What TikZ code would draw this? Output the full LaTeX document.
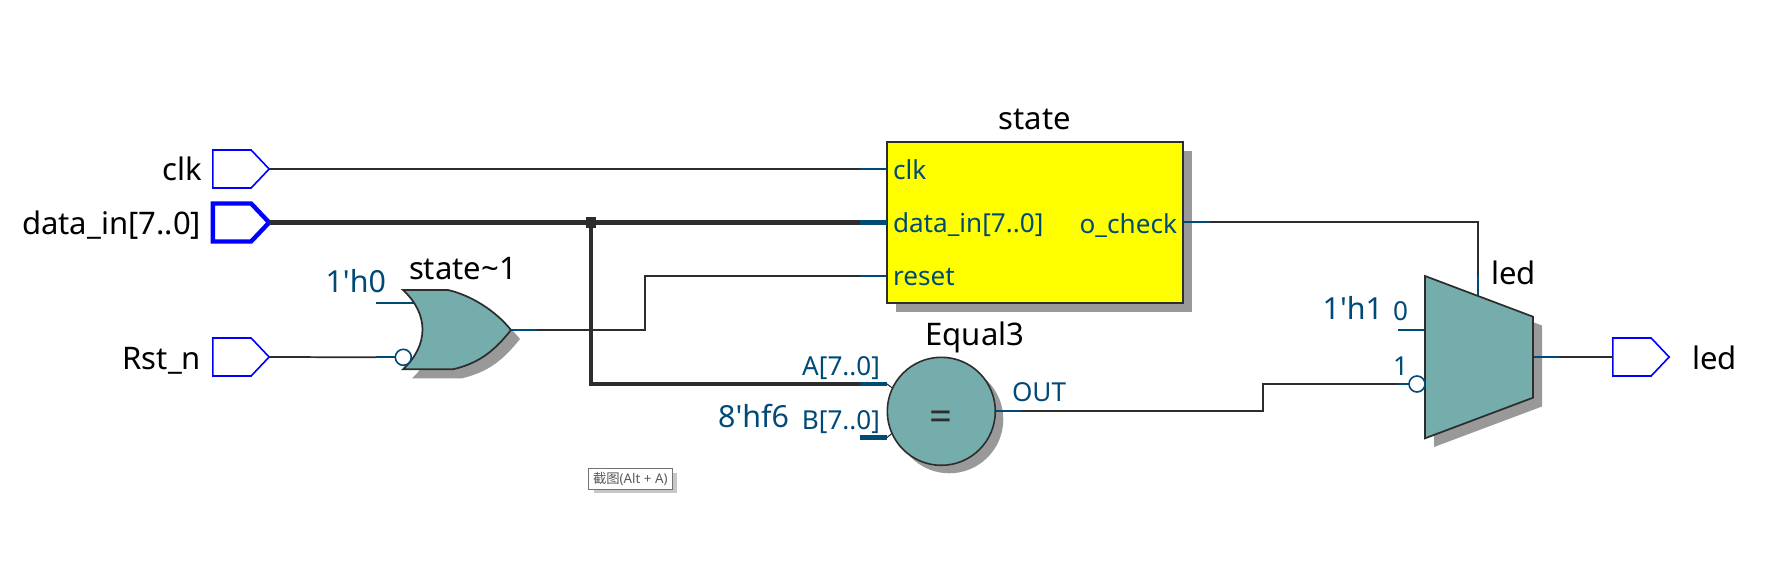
\documentclass[tikz,border=0pt]{standalone}
\usepackage{fontspec}
\setmainfont{Noto Sans}
\newfontfamily\cjkfont{Noto Sans CJK SC}
\usetikzlibrary{shapes.symbols}
\definecolor{wiredark}{HTML}{2D2D2D}
\definecolor{portnavy}{HTML}{004A78}
\definecolor{gateteal}{HTML}{75ADAD}
\definecolor{shadowgray}{HTML}{999999}
\definecolor{pinblue}{HTML}{0000FF}
\definecolor{blockyellow}{HTML}{FFFF00}
\tikzset{
  wire/.style={draw=wiredark,line width=1.3pt},
  bus/.style={draw=wiredark,line width=3.3pt},
  stub/.style={draw=portnavy,line width=1.3pt},
  busstub/.style={draw=portnavy,line width=3.3pt},
  gatebody/.style={draw=wiredark,fill=gateteal,line width=1.3pt,line join=miter},
  shade/.style={fill=shadowgray},
  pinbox/.style={shape=signal,signal to=east,signal pointer angle=93,draw=pinblue,fill=white,line width=1.2pt,
     minimum width=42.2pt,minimum height=28.5pt,inner sep=0pt,outer sep=0pt},
  buspin/.style={pinbox,line width=3.3pt},
  bubble/.style={shape=circle,draw=portnavy,fill=white,line width=1.2pt,minimum size=12pt,inner sep=0pt,outer sep=0pt},
  big/.style={inner sep=0pt,outer sep=0pt,font=\fontsize{23.3}{25}\selectfont,text=black},
  bignavy/.style={big,text=portnavy,font=\fontsize{22.8}{25}\selectfont},
  small/.style={inner sep=0pt,outer sep=0pt,font=\fontsize{19.6}{21}\selectfont,text=portnavy},
}
\begin{document}
\begin{tikzpicture}[x=0.75pt,y=-0.75pt]
\useasboundingbox (0,0) rectangle (1766,577);
\fill[white] (0,0) rectangle (1766,577);
% shadows
\fill[shade] (896,151) rectangle (1192,312);
\fill[shade] (949.3,419.3) circle[radius=40.5pt];
\fill[shade,shift={(9,9)}] (403,290) -- (448,290) .. controls (470,295) and (495,310) .. (511,330) .. controls (495,350) and (480,363) .. (453,369.3) -- (403,369.3) .. controls (429,345) and (429,314) .. (403,290) -- cycle;
\fill[shade] (1434,285) -- (1542,325.5) -- (1542,406.5) -- (1434,447) -- cycle;
% named points
\coordinate (clkstub) at (860,169);
\coordinate (clkport) at (887,169);
\coordinate (dstub) at (860,222.5);
\coordinate (dport) at (887,222.5);
\coordinate (rstub) at (860,276);
\coordinate (rport) at (887,276);
\coordinate (junc) at (591,222.5);
\coordinate (buscorner) at (591,384);
\coordinate (astub) at (860,384);
\coordinate (aport) at (887,384);
\coordinate (bstub) at (860,437.5);
\coordinate (bport) at (887,437.5);
\coordinate (ortip) at (511,330);
\coordinate (orstub) at (537,330);
\coordinate (rbend1) at (645,330);
\coordinate (rbend2) at (645,276);
\coordinate (or0a) at (376,302.7);
\coordinate (or0b) at (415,302.7);
\coordinate (rststub) at (376,357.3);
\coordinate (outa) at (995,410.7);
\coordinate (outstub) at (1021,410.7);
\coordinate (outb1) at (1263,410.7);
\coordinate (outb2) at (1263,384);
\coordinate (mux1stub) at (1398,384);
\coordinate (mux0a) at (1398,329.7);
\coordinate (mux0b) at (1425,329.7);
\coordinate (chka) at (1183,221.7);
\coordinate (chkstub) at (1210,221.7);
\coordinate (chkbend) at (1478.3,221.7);
\coordinate (selstub) at (1478.3,276);
\coordinate (selport) at (1478.3,297);
\coordinate (muxout) at (1533,357);
\coordinate (muxoutstub) at (1559,357);
% wires
\draw[wire] (orstub) -- (rbend1) -- (rbend2) -- (rstub);
\draw[stub] (ortip) -- (orstub);
\draw[stub] (rstub) -- (rport);
\draw[bus,line join=miter] (junc) -- (buscorner) -- (astub);
\draw[busstub] (astub) -- (aport);
\draw[busstub] (bstub) -- (bport);
\draw[stub] (or0a) -- (or0b);
\draw[stub] (mux0a) -- (mux0b);
\draw[wire] (outstub) -- (outb1) -- (outb2) -- (mux1stub);
\draw[stub] (outa) -- (outstub);
\draw[stub] (chka) -- (chkstub);
\draw[wire] (chkstub) -- (chkbend) -- (selstub);
\draw[stub] (selstub) -- (selport);
% block
\node[draw=wiredark,fill=blockyellow,line width=1.5pt,minimum width=222pt,minimum height=120.75pt,inner sep=0pt,outer sep=0pt] (state) at (1035,222.5) {};
% pins
\node[pinbox] (clkpin) at (232,169) {};
\node[buspin] (datapin) at (232,222.5) {};
\node[pinbox] (rstpin) at (232,357) {};
\node[pinbox] (ledpin) at (1632,357) {};
\draw[wire] (clkpin.east) -- (clkstub);
\draw[stub] (clkstub) -- (clkport);
\draw[bus] (datapin.east) -- (dstub);
\draw[busstub] (dstub) -- (dport);
\draw[wire] (rstpin.east) -- (rststub);
\draw[stub] (muxout) -- (muxoutstub);
\draw[wire] (muxoutstub) -- (ledpin.west);
\node[fill=wiredark,minimum size=8.2pt,inner sep=0pt] (juncdot) at (junc) {};
% OR gate
\draw[gatebody] (403,290) -- (448,290) .. controls (470,295) and (495,310) .. (ortip) .. controls (495,350) and (480,363) .. (453,369.3) -- (403,369.3) .. controls (429,345) and (429,314) .. (403,290) -- cycle;
\node[bubble] (orbub) at (403.3,357.3) {};
\draw[stub] (rststub) -- (orbub.west);
% comparator
\draw[wire,line width=0.8pt] (aport) -- (895,390);
\draw[wire,line width=0.8pt] (bport) -- (895,431);
\node[shape=circle,draw=wiredark,fill=gateteal,line width=1.2pt,minimum size=81pt,inner sep=0pt,outer sep=0pt,font=\fontsize{30}{32}\selectfont\bfseries,text=wiredark] (eq) at (941.3,411.3) {\rule{0pt}{29pt}=};
% mux
\draw[gatebody] (1425,276) -- (1533,316.7) -- (1533,397.7) -- (1425,438.3) -- cycle;
\node[bubble] (muxbub) at (1417,384) {};
\draw[stub] (mux1stub) -- (muxbub.west);
% labels
\node[big,anchor=base east] (lclk) at (202,180.7) {clk};
\node[big,anchor=base east] (ldata) at (201,235) {data\_in[7..0]};
\node[big,anchor=base east] (lrst) at (201,369) {Rst\_n};
\node[big,anchor=base west] (lled) at (1692,369) {led};
\node[big,anchor=base] (lstate) at (1035,130) {state};
\node[big,anchor=base] (lor) at (463,280) {state\textasciitilde 1};
\node[big,anchor=base] (leq) at (975,345) {Equal3};
\node[big,anchor=base west] (lmux) at (1491,285) {led};
\node[bignavy,anchor=base east] (lh0) at (386,292.7) {1\textquotesingle h0};
\node[bignavy,anchor=base east] (lf6) at (789,427.7) {8\textquotesingle hf6};
\node[bignavy,anchor=base east] (lh1) at (1383,320) {1\textquotesingle h1};
\node[small,anchor=base west] (pclk) at (893,180) {clk};
\node[small,anchor=base west] (pdata) at (893,233) {data\_in[7..0]};
\node[small,anchor=base west] (preset) at (893,286) {reset};
\node[small,anchor=base east] (pchk) at (1177,233.3) {o\_check};
\node[small,anchor=base east] (pa) at (880,375.7) {A[7..0]};
\node[small,anchor=base east] (pb) at (880,429.3) {B[7..0]};
\node[small,anchor=base west] (pout) at (1012,401.7) {OUT};
\node[small,anchor=base east] (p0) at (1408,320.7) {0};
\node[small,anchor=base east] (p1) at (1408,375) {1};
% tooltip
\fill[black!22] (594,473) rectangle (676.5,493);
\node[draw=black!55,fill=white,line width=0.8pt,minimum width=63pt,minimum height=15.75pt,inner sep=0pt,outer sep=0pt,text=black!65,font=\fontsize{10}{11}\selectfont] (tip) at (630.3,478.8) {{\cjkfont 截图}(Alt + A)};
\end{tikzpicture}
\end{document}
